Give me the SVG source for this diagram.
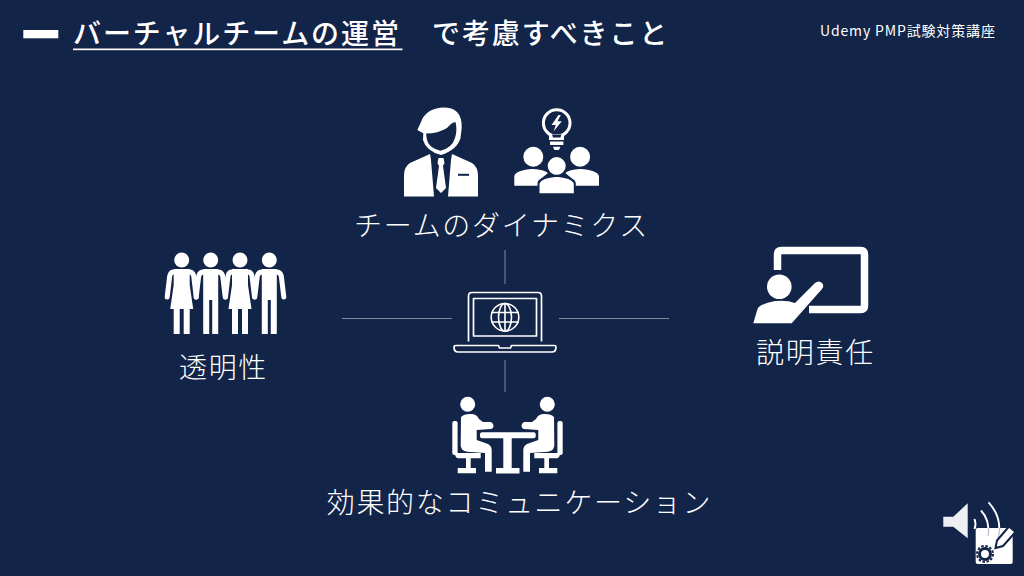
<svg xmlns="http://www.w3.org/2000/svg" xmlns:xlink="http://www.w3.org/1999/xlink" width="1024" height="576" viewBox="0 0 1024 576">
<style>
.t{font-family:"Noto Sans CJK JP","Noto Sans",sans-serif;fill:#fff}
.title{font-size:28px;font-weight:500;letter-spacing:1.900px}
.lab{font-size:28px;font-weight:300;letter-spacing:1.700px;text-anchor:middle}
.w{fill:#fff}
.d{fill:#122448}
.ol{fill:none;stroke:#fff;stroke-width:1.7;stroke-linejoin:round}
.conn{stroke:#7f8b9d;stroke-width:1;fill:none}
.arc{fill:none;stroke:#fff;stroke-width:1.900}
.arm{stroke:#fff;stroke-width:5;stroke-linecap:round;fill:none}
</style>
<defs>
<g id="woman"><circle cx="0" cy="260" r="7.500" class="w"/><path class="w" d="M-8 269H8L8 285L11.500 309H-11.500L-8 285Z"/><path class="w" d="M-8 309H-2V334H-8ZM2 309H8V334H2Z"/><path class="arm" d="M-8 272Q-11 272 -12 276L-14.500 297M8 272Q11 272 12 276L14.500 297"/></g>
<g id="man"><circle cx="0" cy="260" r="7.500" class="w"/><path class="w" d="M-7.500 269H7.500V334H1.500V300H-1.500V334H-7.500Z"/><path class="arm" d="M-7 272Q-11 272 -12 276L-14.500 297M7 272Q11 272 12 276L14.500 297"/></g>
<g id="sitter">
<circle cx="467.700" cy="404.300" r="7.500" class="w"/>
<path class="w" d="M461 417Q464 413.500 472 414Q477 414.500 479 419L483 422H491Q493.500 423.500 493.500 425.500Q493.500 428.500 491 429L476.700 430V440L488 444Q491.700 446 491.700 450V471.700H485V453L467 451.700Q461.500 451 460.700 446Z"/>
<rect class="w" x="452.300" y="421" width="5.300" height="34" rx="2"/>
<path class="w" d="M455 453H480.700V458.300H470.700V468H476V473.300H457.700V468H466V458.300H458Q455 458 455 453Z"/>
</g>
</defs>
<rect width="1024" height="576" fill="#122448"/>

<g id="connectors">
<path class="conn" d="M505 250V284M342 318.500H452M559 318.500H669M505 360V392"/>
</g>

<g id="header">
<rect class="w" x="23.300" y="30" width="35" height="8.300"/>
<text class="t title" x="73" y="44">バーチャルチームの運営</text>
<rect class="w" x="73" y="48.500" width="329.500" height="1.700"/>
<text class="t title" x="432" y="44">で考慮すべきこと</text>
<text class="t" x="820" y="36" font-size="14" letter-spacing="0.850">Udemy PMP試験対策講座</text>
</g>

<g id="node-team-dynamics">
<path class="w" d="M430 154L410 163Q404 167 404 175V196.600H434L431 160ZM452 154L472 163Q478 167 478 175V196.600H448L451 160Z"/>
<path class="w" d="M438.500 158H443.500L444.500 163L443 166L446 188L441 193L436 188L439 166L437.500 163Z"/>
<rect class="d" x="458" y="173.800" width="11" height="2"/>
<path class="w" d="M417.300 130L421 122Q425 110 440 107.700Q452 107 457 112Q462 117 461.700 128L460.500 138Q457 150 441 155Q426 151 423 140L423.300 133.300Z"/>
<path class="d" d="M426 133.500Q438 133.500 447 128Q452 122 455.500 122Q457.500 130 455 138Q452 148 440.500 150.700Q429 148 427 140Z"/>
<circle cx="556.700" cy="123" r="13.300" fill="none" stroke="#fff" stroke-width="3"/>
<path class="w" d="M549 134H564V140H549Z"/>
<path class="d" d="M552 134.500H561.400L560.500 137.500H553Z"/>
<path class="w" d="M550 141.500H563.400V145H550ZM553 146.700H560.400L559 150H554.400Z"/>
<path class="w" d="M558.500 115L551.500 125H555.800L553.500 131.500L561.800 121.300H557.500L560.800 115Z"/>
<circle class="w" cx="533.300" cy="156.700" r="10"/>
<circle class="w" cx="580.100" cy="156.700" r="10"/>
<path class="w" d="M514.300 185.700V176Q516 170 533 169Q544 169.500 548 173L538 181V185.700Z"/>
<path class="w" d="M599 185.700V176Q597 170 580 169Q569 169.500 565.300 173L575 181V185.700Z"/>
<circle class="w" cx="556.700" cy="166" r="10" stroke="#122448" stroke-width="2"/>
<path class="w" stroke="#122448" stroke-width="2" d="M538.500 194.300V183Q541 177 556.700 175.700Q572 177 574.800 183V194.300Z"/>
<text class="t lab" x="501.500" y="236">チームのダイナミクス</text>
</g>

<g id="node-transparency">
<use xlink:href="#woman" href="#woman" x="181.700"/>
<use xlink:href="#man" href="#man" x="210.700"/>
<use xlink:href="#woman" href="#woman" x="240"/>
<use xlink:href="#man" href="#man" x="269.300"/>
<text class="t lab" x="223.500" y="378">透明性</text>
</g>

<g id="node-accountability">
<path fill="none" stroke="#fff" stroke-width="7.500" d="M777.500 270V254.500Q777.500 250.500 781.500 250.500H860.500Q864.500 250.500 864.500 254.500V305.500Q864.500 309.500 860.500 309.500H809"/>
<circle class="w" cx="779.300" cy="286.700" r="12.300"/>
<path class="w" d="M753.300 323.300L757.500 309Q760 304 775 301Q787 300 795 303L815 283Q819 280 822 283Q824.500 286 822 289L791.700 323.300Z"/>
<text class="t lab" x="815.500" y="363">説明責任</text>
</g>

<g id="node-virtual-team-laptop">
<path class="ol" d="M468.500 341.500V296Q468.500 292.500 472 292.500H538Q541.500 292.500 541.500 296V341.500"/>
<rect class="ol" x="473.500" y="298.500" width="63" height="37.500"/>
<path class="ol" d="M456 345.500H498.500L499.500 348H510.500L511.500 345.500H554.500Q556 345.500 556 347Q556 352 552 352H458Q454 352 454 347Q454 345.500 456 345.500Z"/>
<g fill="none" stroke="#fff" stroke-width="1.600">
<circle cx="505" cy="317.300" r="13.800"/>
<ellipse cx="505" cy="317.300" rx="6.500" ry="13.800"/>
<path d="M505 303.500V331M491.200 312.500H518.800M491.200 322H518.800"/>
</g>
</g>

<g id="node-communication">
<use xlink:href="#sitter" href="#sitter"/>
<use xlink:href="#sitter" href="#sitter" transform="matrix(-1 0 0 1 1015 0)"/>
<rect class="d" x="478.500" y="431" width="58.500" height="8.500" rx="2"/>
<rect class="w" x="480" y="432.300" width="55.700" height="6" rx="2"/>
<rect class="w" x="503.300" y="438" width="8.400" height="30"/>
<rect class="w" x="496" y="468" width="23.500" height="5.500"/>
<text class="t lab" x="519.500" y="513">効果的なコミュニケーション</text>
</g>

<g id="node-audio-note">
<path class="w" opacity=".93" d="M943.300 516.700H953.300L967.700 503.300V538.300L953.300 526.700H943.300Z"/>
<path class="arc" d="M974.500 519Q976.500 524 974.500 529"/>
<path class="arc" d="M981 510.500Q990 520 988 535"/>
<path class="arc" d="M988.500 502.300Q1003 518 998 538.500"/>
<rect class="w" x="975.700" y="528" width="37" height="36" rx="2"/>
<path fill="none" stroke="#b8c0cc" stroke-width="1.200" d="M988.500 528Q989 532 988 536M999.500 528Q999.500 533 998 538.500"/>
<path class="w" stroke="#122448" stroke-width="2" d="M1009 526.500L1015.500 532L1003 546L995.500 548L997 540.500Z"/>
<circle cx="985" cy="554" r="5.500" fill="none" stroke="#122448" stroke-width="3"/>
<circle cx="985" cy="554" r="8" fill="none" stroke="#122448" stroke-width="2" stroke-dasharray="2.500 1.700"/>
</g>
</svg>
